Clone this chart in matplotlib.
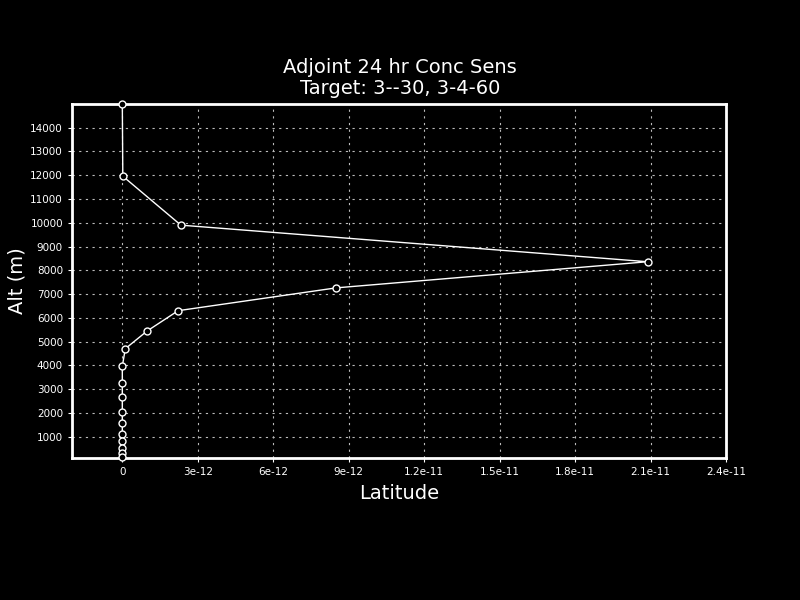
import matplotlib
matplotlib.use("Agg")
import matplotlib.pyplot as plt

# Data (sensitivity vs altitude)
alt_m = [15000, 11960, 9900, 8360, 7260, 6300, 5440, 4700, 3960, 3250,
         2660, 2040, 1580, 1120, 820, 530, 320, 150]
sens = [0.0, 0.02e-12, 2.33e-12, 2.088e-11, 8.50e-12, 2.22e-12, 0.98e-12,
        0.12e-12, 0.0, 0.0, 0.0, 0.0, 0.0, 0.0, 0.0, 0.0, 0.0, 0.0]

xticks = [0, 3e-12, 6e-12, 9e-12, 1.2e-11, 1.5e-11, 1.8e-11, 2.1e-11, 2.4e-11]
xticklabels = ["0", "3e-12", "6e-12", "9e-12", "1.2e-11", "1.5e-11",
               "1.8e-11", "2.1e-11", "2.4e-11"]
yticks = list(range(1000, 15000, 1000))

fig = plt.figure(figsize=(8, 6), dpi=100, facecolor="black")
ax = fig.add_axes([0.09, 0.2367, 0.8175, 0.59])
ax.set_facecolor("black")

ax.plot(sens, alt_m, color="white", linewidth=1.0, marker="o",
        markersize=5, markerfacecolor="black", markeredgecolor="white",
        markeredgewidth=1.0, zorder=3, clip_on=False)

ax.set_xlim(-2.0e-12, 2.4e-11)
ax.set_ylim(100, 15000)
ax.set_xticks(xticks)
ax.set_xticklabels(xticklabels)
ax.set_yticks(yticks)
ax.set_yticklabels([str(v) for v in yticks])

for s in ax.spines.values():
    s.set_color("white")
    s.set_linewidth(2)

ax.tick_params(colors="white", labelsize=7.5, length=3, width=0.8,
               direction="out")
ax.grid(True, color="#bbbbbb", linestyle=(0, (2, 4)), linewidth=0.8)

ax.set_xlabel("Latitude", color="white", fontsize=14, va="center")
ax.set_ylabel("Alt (m)", color="white", fontsize=14, va="center")
ax.xaxis.set_label_coords(0.5, -0.099)
ax.yaxis.set_label_coords(-0.084, 0.5)

fig.text(0.5, 0.888, "Adjoint 24 hr Conc Sens", color="white", fontsize=14,
         ha="center", va="center")
fig.text(0.5, 0.853, "Target: 3--30, 3-4-60", color="white", fontsize=14,
         ha="center", va="center")

fig.savefig("out.png", dpi=100, facecolor="black")
